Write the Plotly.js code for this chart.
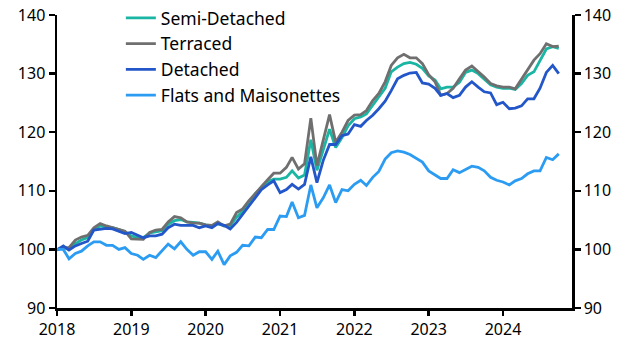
<!DOCTYPE html>
<html>
<head>
<meta charset="utf-8">
<script src="https://cdn.plot.ly/plotly-3.0.1.min.js"></script>
<style>html,body{margin:0;padding:0;background:#fff;}#chart{width:630px;height:355px;}</style>
</head>
<body>
<div id="chart"></div>
<script>
const startYear = 2018;
const nMonths = 82;
const dates = [];
for (let i = 0; i < nMonths; i++) {
  const y = startYear + Math.floor(i / 12);
  const m = (i % 12) + 1;
  dates.push(y + '-' + (m < 10 ? '0' + m : m) + '-01');
}
const seriesNames = ['Semi-Detached', 'Terraced', 'Detached', 'Flats and Maisonettes'];
const semiDetached = [100,100.3,100,101,101.6,102,103.4,104,103.8,103.7,
  103.4,103,102.3,102,102,102.8,103,103.2,104.3,104.9,
  105.1,104.7,104.6,104.5,104.2,104,104.4,104,104,105.5,
  106.5,108,109.5,110.5,111.5,112,112,112.3,113.4,112.2,
  112.7,118.7,113.5,117,120.5,117.4,119.1,121.1,122.3,122.6,
  123.1,124.6,126,127.5,130.3,131.1,131.7,131.9,131.6,130.9,
  129.6,128.9,127.4,127.7,127.7,128.5,130.2,130.6,130,129.1,
  128.1,127.7,127.5,127.5,127.3,128.3,129.7,130.3,132.3,134.2,
  134.6,134.3];
const terraced = [99.9,100.3,100.3,101.6,102.1,102.4,103.7,104.4,104,103.7,
  103.4,103.1,101.8,101.7,101.7,102.9,103.3,103.4,104.7,105.6,
  105.4,104.7,104.5,104.5,104.2,104.1,104.7,104,104.3,106.3,
  106.9,108.3,109.6,110.7,111.9,113,113,114,115.7,113.7,
  114.6,122.4,114.3,118.5,123,118.3,120,122,122.9,123,
  123.7,125.4,126.6,128.6,131.4,132.7,133.3,132.7,132.7,131.7,
  129.8,128.6,126.3,126.6,127.5,129.1,130.6,131.3,130.4,129.4,
  128.3,127.9,127.7,127.7,127.4,129.1,130.6,132.3,133.4,135.1,
  134.6,134.7];
const detached = [99.9,100.6,99.9,100.6,101,101.4,103.3,103.4,103.6,103.5,
  103.1,102.7,102.9,102.4,102,102.3,102.3,102.6,103.7,104.3,
  104.1,104.1,104.1,103.7,104,103.7,104.4,104.1,103.5,104.6,
  106,107.4,108.9,110.2,111,111.7,109.7,110.2,111.1,110.3,
  111.1,115.8,111.4,115.2,117.9,117.9,119.4,119.7,121.3,121,
  122,122.9,124,125.3,127.1,129.1,129.7,130.1,130.2,128.4,
  128.2,127.5,126.3,126.6,125.9,126.3,127.7,128.6,127.7,126.9,
  126.7,124.7,125.1,124,124.1,124.5,125.7,125.7,127.5,130.2,
  131.4,130];
const flats = [100,100,98.4,99.3,99.7,100.6,101.3,101.3,100.7,100.7,
  100,100.3,99.3,99,98.3,99,98.6,99.7,100.9,100.1,
  101.3,100,99,99.6,99.6,98.3,99.7,97.4,98.9,99.5,
  100.7,100.6,102.1,102,103.4,103.4,105.7,105.6,108.1,105.4,
  105.8,111,107.1,108.8,111,108,110.2,110,111.1,111.8,
  110.9,112.3,113.3,115.4,116.5,116.8,116.6,116.2,115.6,114.9,
  113.4,112.7,112.1,112.1,113.6,113.1,113.7,114.2,114,113.4,
  112.3,111.8,111.5,111,111.7,112.1,112.9,113.4,113.4,115.7,
  115.3,116.3];
const xTickVals = ['2018-01-01','2019-01-01','2020-01-01','2021-01-01','2022-01-01','2023-01-01','2024-01-01'];
const xTickText = ['2018','2019','2020','2021','2022','2023','2024'];
const yTicks = [90,100,110,120,130,140];

const colors = ['#1ab5a3', '#6f6f6f', '#2256c9', '#2b9cf2'];
const allSeries = [semiDetached, terraced, detached, flats];

const traces = allSeries.map((s, i) => ({
  x: dates, y: s, name: seriesNames[i], type: 'scatter', mode: 'lines',
  line: {color: colors[i], width: 2.8}, hoverinfo: 'skip'
}));
traces.push({x: dates, y: flats, yaxis: 'y2', type: 'scatter', mode: 'lines',
  line: {color: 'rgba(0,0,0,0)', width: 0}, showlegend: false, hoverinfo: 'skip'});
const font = {family: 'Noto Sans, sans-serif', size: 16, color: '#000'};
const plotTopDomain = 1 - 15 / 308;
const layout = {
  width: 630, height: 355,
  margin: {l: 57, r: 58, t: 0, b: 47},
  paper_bgcolor: '#fff', plot_bgcolor: '#fff',
  font: font,
  showlegend: true,
  legend: {x: 0.124, xanchor: 'left', y: 1.0, yanchor: 'top', bgcolor: 'rgba(0,0,0,0)',
    font: {family: 'Noto Sans, sans-serif', size: 17.5, color: '#000'}, tracegroupgap: 0},
  xaxis: {type: 'date', range: ['2018-01-01', '2024-12-05'], tickvals: xTickVals, ticktext: xTickText,
    showgrid: false, zeroline: false, showline: true, linecolor: '#000', linewidth: 2.5,
    ticks: 'outside', ticklen: 5, tickwidth: 2.5, tickcolor: '#000', tickfont: font},
  yaxis: {range: [90, 140], domain: [0, plotTopDomain], tickvals: yTicks, showgrid: false, zeroline: false, showline: true,
    linecolor: '#000', linewidth: 2.5, ticks: 'outside', ticklen: 6, tickwidth: 2.5, tickcolor: '#000', tickfont: font},
  yaxis2: {range: [90, 140], domain: [0, plotTopDomain], tickvals: yTicks, overlaying: 'y', side: 'right', showgrid: false, zeroline: false,
    showline: true, linecolor: '#000', linewidth: 2.5, ticks: 'outside', ticklen: 6, tickwidth: 2.5, tickcolor: '#000', tickfont: font}
};
Plotly.newPlot('chart', traces, layout, {staticPlot: true, displayModeBar: false});
</script>
</body>
</html>
